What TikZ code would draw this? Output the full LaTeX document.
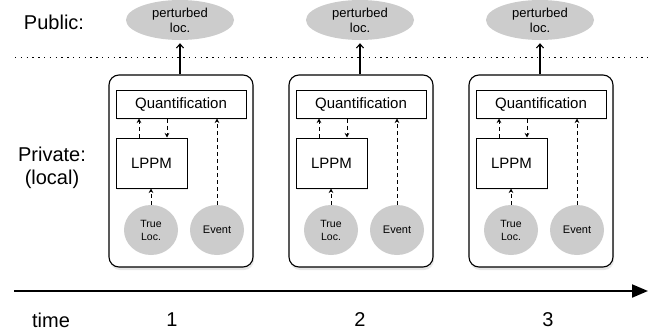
\documentclass[tikz,border=0pt]{standalone}
\usepackage{fontspec}
\setmainfont{Liberation Sans}
\usetikzlibrary{shapes.geometric, shadows}
\usetikzlibrary{arrows.meta}

\begin{document}
\begin{tikzpicture}[x=1pt,y=-1pt]
	\tikzstyle{panel}=[draw,line width=1.1pt,rounded corners=10pt,fill=white,minimum width=144,minimum height=192,drop shadow={opacity=0.2,shadow xshift=1pt,shadow yshift=-3pt}]
	\tikzstyle{box}=[draw,line width=1pt,fill=white,inner sep=0pt,font=\fontsize{15}{17}\selectfont,drop shadow={opacity=0.15,shadow xshift=1pt,shadow yshift=-2pt}]
	\tikzstyle{blob}=[ellipse,fill=gray!40,inner sep=0pt,align=center]
	\tikzstyle{label}=[font=\fontsize{20}{23}\selectfont,align=center]
	\tikzstyle{flow}=[line width=1pt,dash pattern=on 4pt off 3pt,-{Stealth[length=4.5pt,width=4.5pt]}]

	\useasboundingbox (0,0) rectangle (667,332);

	\node [label] (public) at (54,22) {Public:};
	\node [label] (private) at (52,168) {Private:\\(local)};

	\coordinate (dotl) at (15,57);
	\coordinate (dotr) at (648,57);
	\draw [line width=1pt,dash pattern=on 1.3pt off 4.5pt] (dotl) -- (dotr);

	\foreach \i/\c in {1/180,2/360,3/540} {
		\node [panel] (frame\i) at (\c+1,171) {};
		\node [box,minimum width=130,minimum height=28] (q\i) at (\c+1,104) {Quantification};
		\node [box,minimum width=71,minimum height=50] (lppm\i) at (\c-28.5,163) {LPPM};
		\node [blob,minimum width=54,minimum height=50,font=\fontsize{10.5}{13}\selectfont] (true\i) at (\c-29,230) {True\\Loc.};
		\node [blob,minimum width=54,minimum height=50,font=\fontsize{11}{13}\selectfont] (event\i) at (\c+37,230) {Event};
		\node [blob,minimum width=108,minimum height=40,font=\fontsize{13}{15}\selectfont] (pert\i) at (\c,20) {perturbed\\loc.};

		\draw [line width=1.1pt,-{Straight Barb[length=4pt,width=7pt]},shorten >=3pt] (pert\i.south |- frame\i.north) -- (pert\i.south);
		\draw [flow] ([xshift=-12.5pt]lppm\i.north) -- ([xshift=-12.5pt]lppm\i.north |- q\i.south);
		\draw [flow] ([xshift=15.5pt]lppm\i.north |- q\i.south) -- ([xshift=15.5pt]lppm\i.north);
		\draw [flow] (event\i.north) -- (event\i.north |- q\i.south);
		\draw [flow] (true\i.north) -- (true\i.north |- lppm\i.south);
	}

	\coordinate (tstart) at (14,291);
	\coordinate (tend) at (648,291);
	\draw [line width=2pt,-{Triangle[length=16pt,width=13pt]}] (tstart) -- (tend);

	\node [label] (time) at (51,320) {time};
	\node [label] (t1) at (172,320) {1};
	\node [label] (t2) at (360,320) {2};
	\node [label] (t3) at (548,320) {3};
\end{tikzpicture}
\end{document}
